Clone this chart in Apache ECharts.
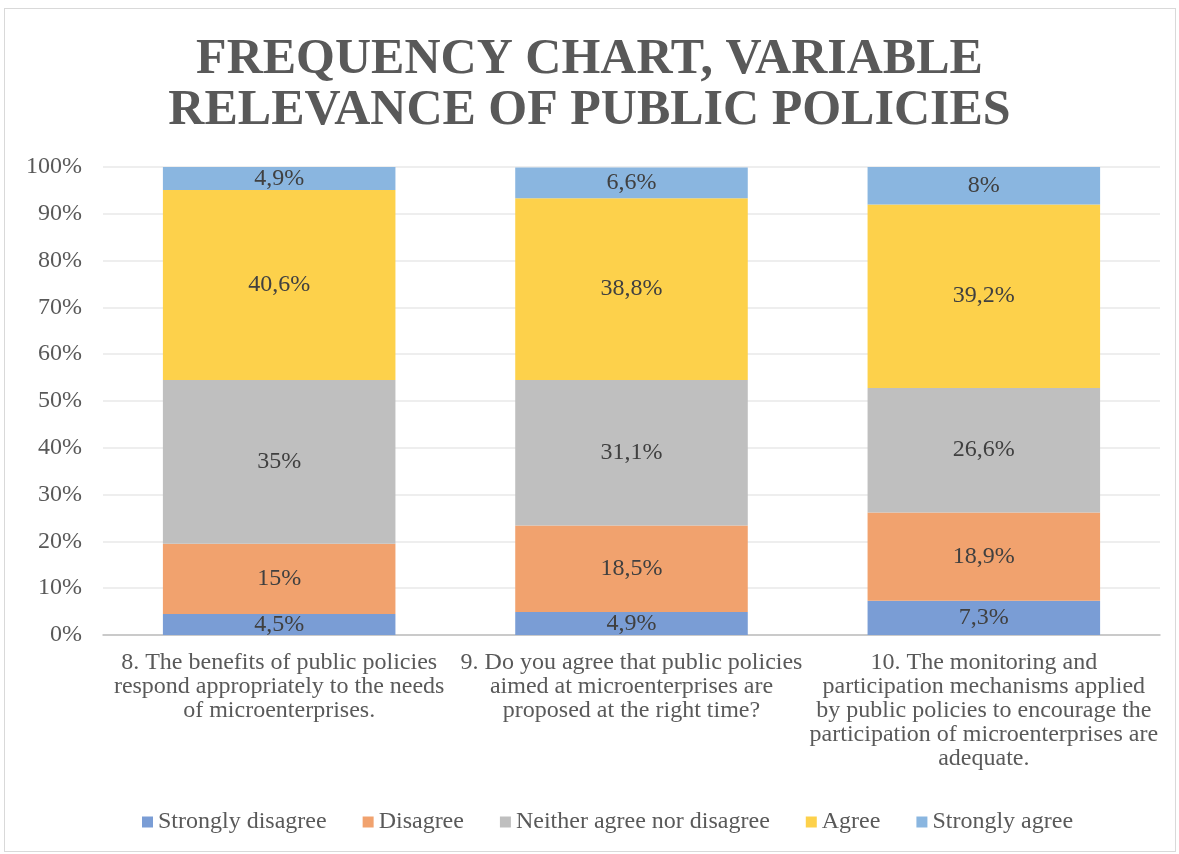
<!DOCTYPE html>
<html>
<head>
<meta charset="utf-8">
<style>
  html, body { margin: 0; padding: 0; background: #fff; }
  #frame { position: absolute; left: 4px; top: 8px; width: 1172px; height: 844px; border: 1px solid #d9d9d9; box-sizing: border-box; }
  #chart { position: absolute; left: 0; top: 0; width: 1179px; height: 854px; }
</style>
</head>
<body>
<div id="frame"></div>
<div id="chart"></div>
<script src="https://cdn.jsdelivr.net/npm/echarts@6/dist/echarts.min.js"></script>
<script>
// categories (x axis)
var categories = [
  '8. The benefits of public policies\nrespond appropriately to the needs\nof microenterprises.',
  '9. Do you agree that public policies\naimed at microenterprises are\nproposed at the right time?',
  '10. The monitoring and\nparticipation mechanisms applied\nby public policies to encourage the\nparticipation of microenterprises are\nadequate.'
];

// series values in percent
var strongDisagree = [4.5, 4.9, 7.3];
var disagree = [15, 18.5, 18.9];
var neither = [35, 31.1, 26.6];
var agree = [40.6, 38.8, 39.2];
var strongAgree = [4.9, 6.6, 8];

var seriesNames = ['Strongly disagree', 'Disagree', 'Neither agree nor disagree', 'Agree', 'Strongly agree'];
var seriesData = [strongDisagree, disagree, neither, agree, strongAgree];
var colors = ['#7a9dd5', '#f1a26e', '#bfbfbf', '#fdd14b', '#8ab6e0'];

var serif = '"Liberation Serif", "Times New Roman", serif';

var myCharts = echarts.init(document.getElementById('chart'));

var series = seriesData.map(function (d, i) {
  return {
    name: seriesNames[i],
    type: 'bar',
    stack: 'total',
    barWidth: '66%',
    data: d,
    itemStyle: { color: colors[i] },
    label: {
      show: true,
      position: 'inside',
      color: '#404040',
      fontFamily: serif,
      fontSize: 24,
      formatter: function (p) {
        return String(p.value).replace('.', ',') + '%';
      }
    }
  };
});

var option = {
  animation: false,
  color: colors,
  title: {
    text: 'FREQUENCY CHART, VARIABLE\nRELEVANCE OF PUBLIC POLICIES',
    left: 'center',
    top: 30,
    textStyle: {
      fontFamily: serif,
      fontWeight: 'bold',
      fontSize: 50,
      lineHeight: 51,
      color: '#595959'
    }
  },
  legend: {
    bottom: 15,
    left: 137,
    itemWidth: 11,
    itemHeight: 11,
    itemGap: 36,
    icon: 'rect',
    textStyle: { fontFamily: serif, fontSize: 24, color: '#595959' }
  },
  grid: {
    left: 103,
    right: 19,
    top: 167,
    bottom: 219
  },
  xAxis: {
    type: 'category',
    data: categories,
    axisTick: { show: false },
    axisLine: { lineStyle: { color: '#bfbfbf', width: 1.5 } },
    axisLabel: {
      color: '#595959',
      fontFamily: serif,
      fontSize: 24,
      lineHeight: 24,
      margin: 16,
      interval: 0
    }
  },
  yAxis: {
    type: 'value',
    min: 0,
    max: 100,
    interval: 10,
    axisLine: { show: false },
    axisTick: { show: false },
    axisLabel: {
      color: '#595959',
      fontFamily: serif,
      fontSize: 24,
      margin: 21,
      formatter: '{value}%'
    },
    splitLine: { lineStyle: { color: '#e8e8e8', width: 1.5 } }
  },
  series: series
};

myCharts.setOption(option);

window.addEventListener('resize', function () {
  myCharts.resize();
});
</script>
</body>
</html>
